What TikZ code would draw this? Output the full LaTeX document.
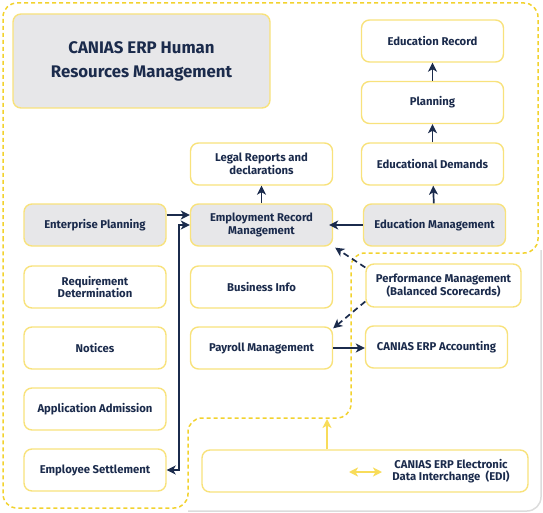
\documentclass[tikz,border=0pt]{standalone}
\usepackage{fontspec}
\setmainfont{Fira Sans}
\usetikzlibrary{arrows.meta}
\definecolor{navy}{HTML}{1B2B4C}
\definecolor{boxline}{HTML}{F8E27C}
\definecolor{zoneline}{HTML}{F2D22E}
\definecolor{boxgray}{HTML}{E7E7E9}
\definecolor{edigold}{HTML}{F8DC5A}
\definecolor{shadowgray}{HTML}{DCDCDC}
\tikzset{navytip/.tip={Stealth[length=9pt,width=9pt,inset=2.5pt]}}
\begin{document}
\begin{tikzpicture}[x=1pt,y=-1pt,
   every node/.style={text=navy,font=\bfseries\fontsize{11.3}{12.5}\selectfont,align=center},
   module/.style={draw=boxline,line width=1.4pt,rounded corners=8pt,fill=white,
      minimum width=142pt,minimum height=42pt,inner sep=2pt},
   core/.style={module,fill=boxgray},
   link/.style={draw=navy,line width=1.7pt,-navytip},
   softlink/.style={link,dash pattern=on 6pt off 4pt},
   zone/.style={draw=zoneline,line width=1.5pt,dash pattern=on 4pt off 3pt,rounded corners=14pt},
   goldlink/.style={draw=edigold,line width=1.7pt,-navytip}]
\useasboundingbox (0,0) rectangle (543,513);
% shadow and dashed zone
\draw[shadowgray,line width=1.5pt,rounded corners=14pt] (188,511) -- (541,511) -- (541,250);
\draw[zone] (3,254) -- (3,3) -- (538,3) -- (538,253) -- (351,253) -- (351,418)
   -- (188,418) -- (188,508) -- (3,508) -- cycle;
% title
\node[core,minimum width=257pt,minimum height=94pt,font=\bfseries\fontsize{16.8}{24}\selectfont]
   (title) at (141.5,61) {CANIAS ERP Human\\Resources Management};
% education column
\node[module] (edurec) at (432.5,41) {Education Record};
\node[module] (plan) at (432.5,102.5) {Planning};
\node[module] (edudem) at (432.5,164) {Educational Demands};
\node[core] (edumgmt) at (434.5,225) {Education Management};
% middle column
\node[module] (legal) at (261.5,164) {Legal Reports and\\declarations};
\node[core] (emprec) at (261.5,225) {Employment Record\\Management};
\node[module] (bizinfo) at (261.5,287) {Business Info};
\node[module] (payroll) at (261.5,348) {Payroll Management};
% left column
\node[core] (entplan) at (95,225) {Enterprise Planning};
\node[module] (reqdet) at (95,287) {Requirement\\Determination};
\node[module] (notices) at (95,348) {Notices};
\node[module] (appadm) at (95,409) {Application Admission};
\node[module] (empset) at (95,470) {Employee Settlement};
% right side
\node[module,minimum width=155pt,minimum height=43pt] (perf) at (443.5,285.5)
   {Performance Management\\(Balanced Scorecards)};
\node[module] (acct) at (436.5,347) {CANIAS ERP Accounting};
\node[module,minimum width=326pt] (edi) at (365,471) {};
\node (edilabel) at (451,471) {CANIAS ERP Electronic\\Data Interchange~~(EDI)};
\coordinate (edileft) at (349,472);
\coordinate (ediright) at (382,472);
\coordinate (zonegap) at (327,419);
% connectors
\draw[link] (edumgmt) -- (edudem);
\draw[link] (edudem) -- (plan);
\draw[link] (plan) -- (edurec);
\draw[link] (edumgmt.west) -- ([xshift=-4pt]emprec.east);
\draw[link] (emprec) -- (legal);
\draw[link] ([yshift=10pt]entplan.east) -- ([yshift=10pt]emprec.west);
\draw[link,navytip-navytip] (empset.east) -- ++(12,0) |- (emprec.west);
\draw[softlink] ([yshift=18pt]perf.west) -- ([xshift=2pt,yshift=-1pt]emprec.south east);
\draw[softlink] ([yshift=-16pt]perf.west) -- ([yshift=-2pt]payroll.north east);
\draw[link] (payroll.east) -- (payroll.east -| acct.west);
\draw[goldlink] (edi.north -| zonegap) -- (zonegap);
\draw[goldlink,navytip-navytip] (edileft) -- (ediright);
\end{tikzpicture}
\end{document}
